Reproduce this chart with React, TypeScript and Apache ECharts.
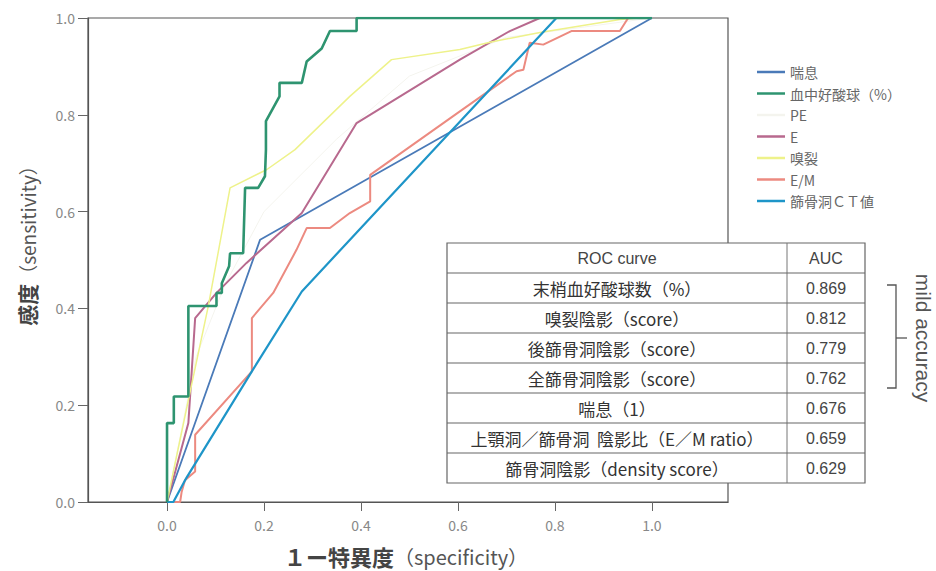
import React, { useEffect, useRef } from "react";
import * as echarts from "echarts";

// ---- data ----
const seriesNames = ["喘息", "血中好酸球（%）", "PE", "E", "嗅裂", "E/M", "篩骨洞ＣＴ値"];

const asthma: number[][] = [[0, 0], [0.192, 0.542], [1, 1]];
const eosinophil: number[][] = [
  [0, 0], [0, 0.163], [0.014, 0.163], [0.014, 0.218], [0.044, 0.218], [0.044, 0.405],
  [0.102, 0.405], [0.102, 0.432], [0.113, 0.432], [0.113, 0.452], [0.128, 0.487],
  [0.13, 0.514], [0.157, 0.514], [0.161, 0.649], [0.188, 0.649], [0.202, 0.673],
  [0.204, 0.728], [0.204, 0.787], [0.232, 0.838], [0.232, 0.866], [0.278, 0.866],
  [0.288, 0.91], [0.319, 0.937], [0.336, 0.973], [0.391, 0.973], [0.391, 1], [1, 1],
];
const pe: number[][] = [
  [0, 0], [0.06, 0.3], [0.12, 0.45], [0.2, 0.6], [0.35, 0.75], [0.5, 0.88], [0.7, 0.96], [1, 1],
];
const eScore: number[][] = [
  [0, 0], [0.044, 0.163], [0.058, 0.38], [0.102, 0.432], [0.164, 0.494], [0.278, 0.597],
  [0.391, 0.783], [0.604, 0.914], [0.707, 0.973], [0.769, 1], [1, 1],
];
const olfactory: number[][] = [
  [0, 0], [0.047, 0.225], [0.085, 0.404], [0.13, 0.649], [0.206, 0.687], [0.264, 0.728],
  [0.377, 0.838], [0.463, 0.914], [0.604, 0.935], [0.666, 0.95], [0.769, 0.97],
  [0.934, 0.997], [0.975, 1], [1, 1],
];
const emRatio: number[][] = [
  [0, 0], [0.027, 0], [0.03, 0.02], [0.037, 0.045], [0.058, 0.063], [0.058, 0.139],
  [0.175, 0.27], [0.175, 0.38], [0.219, 0.432], [0.267, 0.521], [0.288, 0.566],
  [0.336, 0.566], [0.377, 0.597], [0.419, 0.621], [0.419, 0.676], [0.604, 0.807],
  [0.721, 0.89], [0.735, 0.893], [0.748, 0.949], [0.776, 0.945], [0.834, 0.973],
  [0.934, 0.973], [0.951, 1], [1, 1],
];
const ctValue: number[][] = [
  [0, 0], [0.013, 0], [0.04, 0.05], [0.175, 0.27], [0.278, 0.435], [0.803, 1], [1, 1],
];
const seriesData = [asthma, eosinophil, pe, eScore, olfactory, emRatio, ctValue];

const tickValues = [0, 0.2, 0.4, 0.6, 0.8, 1.0];

const tableHeader = ["ROC curve", "AUC"];
const tableLabels = [
  "末梢血好酸球数（%）",
  "嗅裂陰影（score）",
  "後篩骨洞陰影（score）",
  "全篩骨洞陰影（score）",
  "喘息（1）",
  "上顎洞／篩骨洞  陰影比（E／M ratio）",
  "篩骨洞陰影（density score）",
];
const aucValues = ["0.869", "0.812", "0.779", "0.762", "0.676", "0.659", "0.629"];

// ---- styles ----
const colors = ["#4a7ab8", "#2e9470", "#f4f4ee", "#b8698e", "#eef28a", "#ec8a80", "#1e95c8"];
const widths = [1.8, 2.6, 1, 2, 1.5, 2, 2.2];
const FONT = "'Noto Sans CJK JP', 'Noto Sans', sans-serif";
const LATIN = "'Liberation Sans', 'Noto Sans CJK JP', sans-serif";

function buildTable(): any[] {
  const left = 447, right = 865, mid = 787, top = 243, rowH = 30;
  const rows = tableLabels.length + 1;
  const bottom = top + rows * rowH;
  const els: any[] = [];
  els.push({
    type: "rect", z: 100,
    shape: { x: left, y: top, width: right - left, height: bottom - top },
    style: { fill: "#ffffff", stroke: "#666", lineWidth: 1.2 },
  });
  els.push({
    type: "line", z: 101,
    shape: { x1: mid, y1: top, x2: mid, y2: bottom },
    style: { stroke: "#777", lineWidth: 1 },
  });
  for (let i = 1; i < rows; i++) {
    els.push({
      type: "line", z: 101,
      shape: { x1: left, y1: top + i * rowH, x2: right, y2: top + i * rowH },
      style: { stroke: "#666", lineWidth: 1.2 },
    });
  }
  const cx1 = (left + mid) / 2, cx2 = (mid + right) / 2;
  els.push({ type: "text", z: 102, x: cx1, y: top + rowH / 2,
    style: { text: tableHeader[0], fill: "#444", font: `16px ${LATIN}`, align: "center", verticalAlign: "middle" } });
  els.push({ type: "text", z: 102, x: cx2, y: top + rowH / 2,
    style: { text: tableHeader[1], fill: "#444", font: `16px ${LATIN}`, align: "center", verticalAlign: "middle" } });
  tableLabels.forEach((lab, i) => {
    const cy = top + (i + 1) * rowH + rowH / 2;
    els.push({ type: "text", z: 102, x: cx1, y: cy,
      style: { text: lab, fill: "#333", font: `17px ${FONT}`, align: "center", verticalAlign: "middle" } });
    els.push({ type: "text", z: 102, x: cx2, y: cy,
      style: { text: aucValues[i], fill: "#444", font: `16px ${LATIN}`, align: "center", verticalAlign: "middle" } });
  });
  return els;
}

export default function App() {
  const ref = useRef<HTMLDivElement>(null);
  useEffect(() => {
    if (!ref.current) return;
    const chart = echarts.init(ref.current, undefined, { renderer: "svg" });
    chart.setOption({
      animation: false,
      backgroundColor: "#ffffff",
      textStyle: { fontFamily: FONT },
      grid: {
        left: 88, top: 18, right: 208, bottom: 69,
        show: true, borderColor: "#555", borderWidth: 1.2,
      },
      legend: {
        orient: "vertical",
        left: 757, top: 65, padding: 0,
        itemWidth: 28, itemHeight: 2.5, itemGap: 7.5,
        icon: "rect",
        textStyle: { color: "#666", fontSize: 14, lineHeight: 14, fontFamily: FONT },
        data: seriesNames,
      },
      xAxis: {
        type: "value", min: -0.163, max: 1.157,
        splitLine: { show: false },
        axisLine: { show: true, onZero: false, lineStyle: { color: "#555", width: 1.2 } },
        axisTick: { show: true, length: 9, customValues: tickValues, lineStyle: { color: "#666" } },
        axisLabel: {
          customValues: tickValues, margin: 16, color: "#888", fontSize: 14,
          formatter: (v: number) => v.toFixed(1),
        },
      },
      yAxis: {
        type: "value", min: 0, max: 1, interval: 0.2,
        splitLine: { show: false },
        axisLine: { show: true, onZero: false, lineStyle: { color: "#555", width: 1.2 } },
        axisTick: { show: true, length: 10, lineStyle: { color: "#666" } },
        axisLabel: { margin: 13, color: "#888", fontSize: 14, formatter: (v: number) => v.toFixed(1) },
      },
      series: seriesNames.map((name, i) => ({
        name, type: "line", data: seriesData[i],
        showSymbol: false, symbol: "none",
        color: colors[i],
        lineStyle: { color: colors[i], width: widths[i] },
        z: i === 1 ? 5 : 3,
      })),
      graphic: [
        ...buildTable(),
        {
          type: "polyline", z: 100,
          shape: { points: [[887, 285], [896, 285], [896, 388], [887, 388]] },
          style: { stroke: "#555", lineWidth: 1.3, fill: null },
        },
        {
          type: "line", z: 100,
          shape: { x1: 896, y1: 338, x2: 907, y2: 338 },
          style: { stroke: "#555", lineWidth: 1.3 },
        },
        {
          type: "text", z: 100, x: 923, y: 338, rotation: -Math.PI / 2,
          style: { text: "mild accuracy", fill: "#555", font: `21px ${LATIN}`, align: "center", verticalAlign: "middle" },
        },
        {
          type: "text", z: 100, x: 27, y: 241, rotation: Math.PI / 2,
          style: {
            text: "{b|感度}{n|（sensitivity）}",
            align: "center", verticalAlign: "middle",
            rich: {
              b: { fontSize: 21, fontWeight: "bold", fill: "#444", fontFamily: FONT },
              n: { fontSize: 19, fill: "#555", fontFamily: FONT },
            },
          },
        },
        {
          type: "text", z: 100, x: 406, y: 556,
          style: {
            text: "{b|１ー特異度}{n|（specificity）}",
            align: "center", verticalAlign: "middle",
            rich: {
              b: { fontSize: 22, fontWeight: "bold", fill: "#444", fontFamily: FONT },
              n: { fontSize: 20, fill: "#555", fontFamily: FONT },
            },
          },
        },
      ],
    });
    return () => chart.dispose();
  }, []);
  return <div ref={ref} style={{ width: 936, height: 571, position: "absolute", left: 0, top: 0 }} />;
}
